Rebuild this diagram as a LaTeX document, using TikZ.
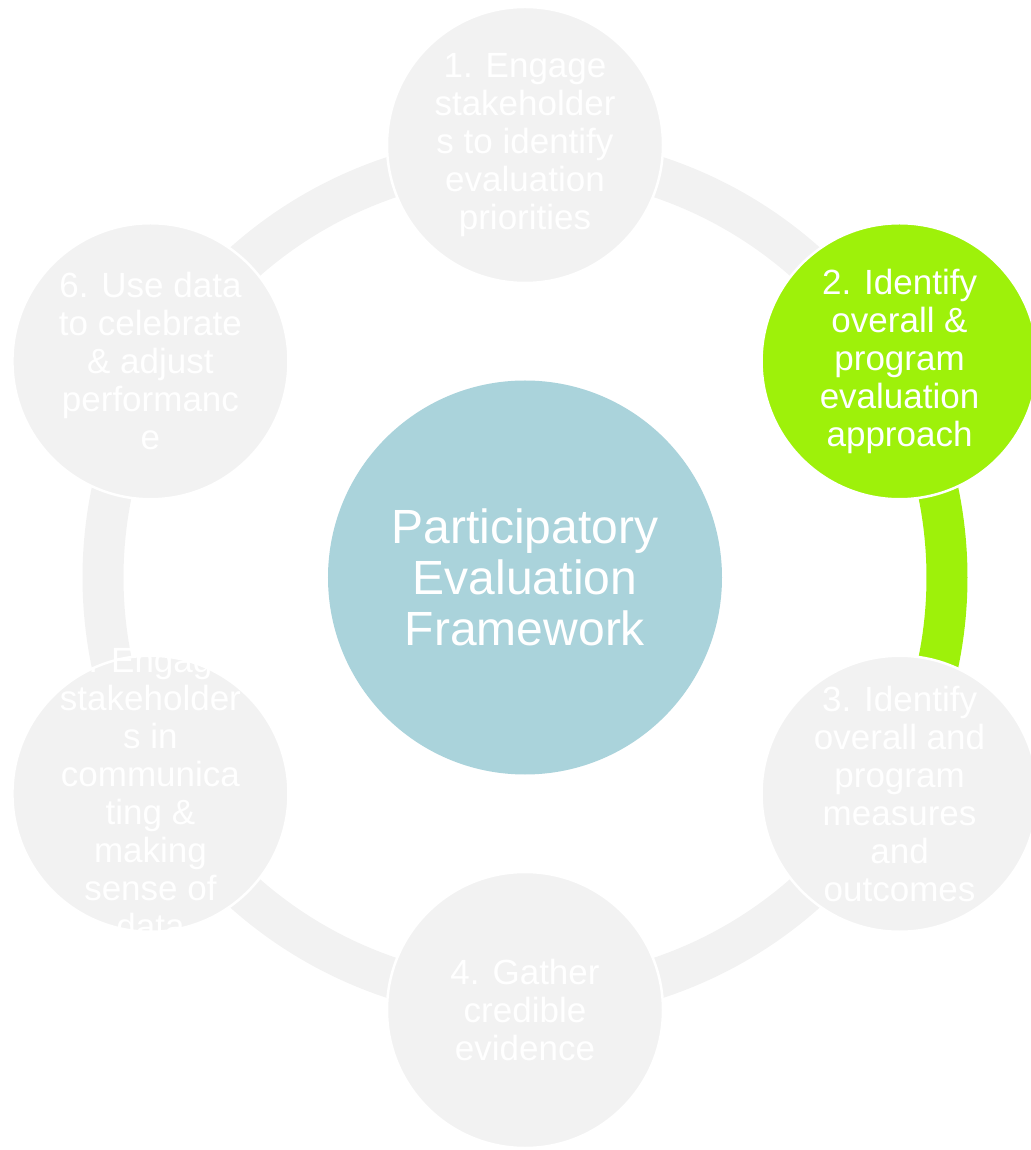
\documentclass[tikz,border=0pt]{standalone}
\usepackage{fontspec}
\setmainfont{Liberation Sans}
\usepackage{tikz}
\definecolor{stepgray}{RGB}{242,242,242}
\definecolor{hubteal}{RGB}{170,211,219}
\definecolor{stepgreen}{RGB}{158,241,10}

\begin{document}
\begin{tikzpicture}[x=1pt, y=1pt,
		stepnode/.style={circle, minimum size=276pt, inner sep=0pt, fill=stepgray, draw=white, line width=2.5pt},
		steptext/.style={text=white, align=center, inner sep=0pt, font=\fontsize{35}{38}\selectfont},
		hubnode/.style={circle, minimum size=394pt, inner sep=0pt, fill=hubteal, text=white, align=center, font=\fontsize{48}{51}\selectfont},
		ringarc/.style={draw=stepgray, line width=41pt}]
				
				\useasboundingbox (-525,-572.5) rectangle (505,577.5);
				
				\pgfmathsetmacro{\ringr}{422}
				\pgfmathsetmacro{\stepd}{432.5}
				
				\coordinate (hub) at (0,0);
				% ring between the steps
				\draw[ringarc] (hub) ++(90:\ringr) arc[start angle=90, end angle=30, radius=\ringr];
				\draw[ringarc, draw=stepgreen] (hub) ++(30:\ringr) arc[start angle=30, end angle=-30, radius=\ringr];
				\draw[ringarc] (hub) ++(-30:\ringr) arc[start angle=-30, end angle=-90, radius=\ringr];
				\draw[ringarc] (hub) ++(-90:\ringr) arc[start angle=-90, end angle=-150, radius=\ringr];
				\draw[ringarc] (hub) ++(-150:\ringr) arc[start angle=-150, end angle=-210, radius=\ringr];
				\draw[ringarc] (hub) ++(150:\ringr) arc[start angle=150, end angle=90, radius=\ringr];
				
				% steps
				\node[stepnode] (s1) at (90:\stepd) {};
				\node[steptext] (s1text) at (s1) {1. Engage\\stakeholder\\s to identify\\evaluation\\priorities};
				\node[stepnode, fill=stepgreen] (s2) at (30:\stepd) {};
				\node[steptext] (s2text) at (s2) {2. Identify\\overall \&\\program\\evaluation\\approach};
				\node[stepnode] (s3) at (-30:\stepd) {};
				\node[steptext] (s3text) at (s3) {3. Identify\\overall and\\program\\measures\\and\\outcomes};
				\node[stepnode] (s4) at (-90:\stepd) {};
				\node[steptext] (s4text) at (s4) {4. Gather\\credible\\evidence};
				\node[stepnode] (s5) at (-150:\stepd) {};
				\node[steptext] (s5text) at (s5) {4. Engage\\stakeholder\\s in\\communica\\ting \&\\making\\sense of\\data};
				\node[stepnode] (s6) at (150:\stepd) {};
				\node[steptext] (s6text) at (s6) {6. Use data\\to celebrate\\\& adjust\\performanc\\e};
				
				\node[hubnode] (pef) at (hub) {Participatory\\Evaluation\\Framework};
				\end{tikzpicture}
\end{document}
